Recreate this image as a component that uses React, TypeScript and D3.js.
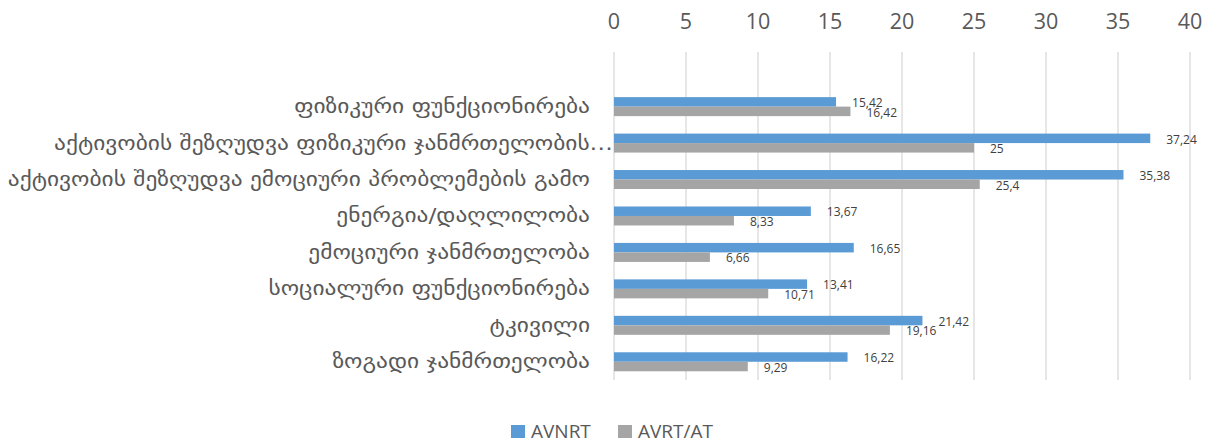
import React from "react";
import * as d3 from "d3";

const categories = [
  "ფიზიკური ფუნქციონირება",
  "აქტივობის შეზღუდვა ფიზიკური ჯანმრთელობის…",
  "აქტივობის შეზღუდვა ემოციური პრობლემების გამო",
  "ენერგია/დაღლილობა",
  "ემოციური ჯანმრთელობა",
  "სოციალური ფუნქციონირება",
  "ტკივილი",
  "ზოგადი ჯანმრთელობა",
];
const avnrt = [15.42, 37.24, 35.38, 13.67, 16.65, 13.41, 21.42, 16.22];
const avrt = [16.42, 25, 25.4, 8.33, 6.66, 10.71, 19.16, 9.29];
const seriesNames = ["AVNRT", "AVRT/AT"];
const colors = ["#5B9BD5", "#A5A5A5"];
const ticks = [0, 5, 10, 15, 20, 25, 30, 35, 40];

const W = 1205;
const H = 443;
const fmt = (v: number) => String(v).replace(".", ",");

export default function App() {
  const x = d3.scaleLinear().domain([0, 40]).range([614, 1190]);
  const y = d3.scaleBand<string>().domain(categories).range([88.4, 380]).paddingInner(0).paddingOuter(0);
  const inner = d3.scaleBand<number>().domain([0, 1]).range([0, y.bandwidth()]).paddingInner(0).paddingOuter(0.92);
  const series = [avnrt, avrt];
  const latin = "'Open Sans', sans-serif";
  const geo = "'DejaVu Sans', sans-serif";
  return (
    <svg width={W} height={H} style={{ position: "absolute", left: 0, top: 0, background: "#fff" }}>
      {ticks.map((t) => (
        <g key={t}>
          <line x1={x(t)} x2={x(t)} y1={52} y2={380} stroke="#D9D9D9" strokeWidth={1.3} />
          <text x={x(t)} y={29} textAnchor="middle" fontFamily={latin} fontSize={21.5} fill="#595959">
            {t}
          </text>
        </g>
      ))}
      {categories.map((c, i) => {
        const cy = (y(c) as number) + y.bandwidth() / 2;
        const truncated = c.endsWith("…");
        return (
          <g key={c}>
            <text
              transform={`translate(${truncated ? 613 : 590},${cy}) scale(1.17,1)`}
              x={0}
              y={6.5}
              textAnchor="end"
              fontFamily={geo}
              fontSize={20}
              fill="#595959"
            >
              {c}
            </text>
            {series.map((s, k) => {
              const by = (y(c) as number) + (inner(k) as number);
              return (
                <g key={k}>
                  <rect x={x(0)} y={by} width={x(s[i]) - x(0)} height={inner.bandwidth()} fill={colors[k]} />
                  <text
                    x={x(s[i]) + 16}
                    y={by + inner.bandwidth() + 0.5}
                    fontFamily={latin}
                    fontSize={12}
                    fill="#404040"
                  >
                    {fmt(s[i])}
                  </text>
                </g>
              );
            })}
          </g>
        );
      })}
      {seriesNames.map((n, k) => {
        const lx = k === 0 ? 511 : 618;
        return (
          <g key={n}>
            <rect x={lx} y={425} width={14} height={13} fill={colors[k]} />
            <text x={lx + 20} y={437.5} fontFamily={latin} fontSize={19} fill="#595959">
              {n}
            </text>
          </g>
        );
      })}
    </svg>
  );
}
